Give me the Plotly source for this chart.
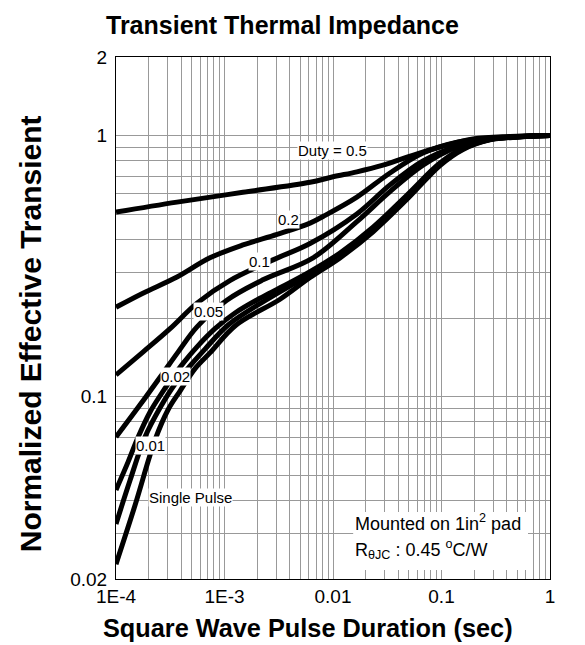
import numpy as np
import plotly.graph_objects as go

# ---- data ----
t_d05 = [1e-4, 3.65e-4, 1.48e-3, 6.14e-3, 0.01, 0.0166, 0.0289, 0.0481, 0.0968, 0.195, 0.428, 1]
z_d05 = [0.509, 0.556, 0.606, 0.662, 0.695, 0.726, 0.770, 0.826, 0.904, 0.970, 0.992, 1.0]

t_d02 = [1e-4, 1.77e-4, 3.65e-4, 7.34e-4, 1.48e-3, 3.05e-3, 6.14e-3, 8.1e-3, 0.0166, 0.0335, 0.0675, 0.139, 0.28, 1]
z_d02 = [0.220, 0.249, 0.287, 0.340, 0.381, 0.418, 0.462, 0.490, 0.581, 0.719, 0.857, 0.944, 0.978, 1.0]

t_d01 = [1e-4, 1.77e-4, 3.15e-4, 5.58e-4, 1.12e-3, 2.80e-3, 6.14e-3, 0.0166, 0.0335, 0.0675, 0.139, 0.28, 1]
z_d01 = [0.121, 0.148, 0.182, 0.228, 0.278, 0.334, 0.386, 0.501, 0.647, 0.799, 0.912, 0.972, 1.0]

t_d005 = [1e-4, 1.66e-4, 2.71e-4, 3.73e-4, 5.58e-4, 1.05e-3, 2.26e-3, 6.55e-3, 0.0166, 0.0335, 0.0675, 0.139, 0.28, 1]
z_d005 = [0.0700, 0.0928, 0.123, 0.148, 0.185, 0.234, 0.280, 0.340, 0.468, 0.61, 0.77, 0.905, 0.970, 1.0]

t_d002 = [1e-4, 1.29e-4, 1.60e-4, 2.06e-4, 2.54e-4, 3.15e-4, 4.15e-4, 5.58e-4, 8.17e-4, 1.25e-3, 2.12e-3,
          3.25e-3, 6.14e-3, 0.0116, 0.0234, 0.0481, 0.0968, 0.158, 0.28, 0.53, 1]
z_d002 = [0.0439, 0.0561, 0.0700, 0.0873, 0.1005, 0.1147, 0.134, 0.155, 0.182, 0.209, 0.238,
          0.261, 0.301, 0.355, 0.446, 0.592, 0.785, 0.896, 0.968, 0.990, 1.0]

t_d001 = [1e-4, 1.35e-4, 1.85e-4, 2.54e-4, 3.50e-4, 4.81e-4, 6.61e-4, 1.08e-3, 2.36e-3, 6.14e-3,
          0.0116, 0.0234, 0.0481, 0.0968, 0.158, 0.28, 0.53, 1]
z_d001 = [0.0325, 0.0479, 0.0700, 0.0904, 0.1117, 0.131, 0.152, 0.188, 0.233, 0.294,
          0.347, 0.436, 0.580, 0.775, 0.890, 0.966, 0.989, 1.0]

t_sp = [1e-4, 1.50e-4, 2.29e-4, 3.01e-4, 3.89e-4, 5.35e-4, 7.34e-4, 1.28e-3, 3.25e-3, 6.14e-3,
        0.0116, 0.0234, 0.0481, 0.0968, 0.158, 0.28, 0.53, 1]
z_sp = [0.0228, 0.0384, 0.0682, 0.0888, 0.1050, 0.128, 0.147, 0.188, 0.236, 0.286,
        0.340, 0.428, 0.570, 0.768, 0.885, 0.963, 0.988, 1.0]

curves = [(t_d05, z_d05), (t_d02, z_d02), (t_d01, z_d01), (t_d005, z_d005),
          (t_d002, z_d002), (t_d001, z_d001), (t_sp, z_sp)]

# curve labels: text, x, y (data units)
label_text = ["Duty = 0.5", "0.2", "0.1", "0.05", "0.02", "0.01", "Single Pulse"]
label_x = [0.0098, 3.85e-3, 2.08e-3, 7.05e-4, 3.5e-4, 2.06e-4, 4.91e-4]
label_y = [0.873, 0.479, 0.328, 0.211, 0.119, 0.0652, 0.0409]

note_line1 = "Mounted on 1in<sup>2</sup> pad"
note_line2 = "R<sub>θJC</sub> : 0.45 <sup>o</sup>C/W"

# axis ticks / grid
x_major = [1e-4, 1e-3, 0.01, 0.1, 1]
x_major_text = ["1E-4", "1E-3", "0.01", "0.1", "1"]
y_major = [0.02, 0.1, 1, 2]
y_major_text = ["0.02", "0.1", "1", "2"]

FONT = "Liberation Sans, Arial, sans-serif"

xt, xl = [], []
for d in [1e-4, 1e-3, 1e-2, 1e-1]:
    for m in range(1, 10):
        v = round(m * d, 6)
        xt.append(v)
        xl.append(x_major_text[x_major.index(v)] if v in x_major else "")
xt.append(1)
xl.append("1")

yt, yl = [], []
for d, ms in [(0.01, range(2, 10)), (0.1, range(1, 10))]:
    for m in ms:
        v = round(m * d, 6)
        yt.append(v)
        yl.append(y_major_text[y_major.index(v)] if v in y_major else "")
yt += [1, 2]
yl += ["1", "2"]

fig = go.Figure()
for t, z in curves:
    fig.add_trace(go.Scatter(x=t, y=z, mode="lines",
                             line=dict(color="black", width=5, shape="spline", smoothing=1.0),
                             showlegend=False, hoverinfo="skip"))

for txt, lx, ly in zip(label_text, label_x, label_y):
    fig.add_annotation(x=np.log10(lx), y=np.log10(ly), xref="x", yref="y", text=txt, showarrow=False,
                       font=dict(family=FONT, size=15, color="black"),
                       bgcolor="white", borderpad=0)

# white box behind the note
fig.add_shape(type="rect", xref="paper", yref="paper", x0=0.5465, x1=0.9493, y0=0.0172, y1=0.1284,
              fillcolor="white", line=dict(width=0), layer="above")
fig.add_annotation(x=0.5460, y=0.1073, xref="paper", yref="paper", xanchor="left", yanchor="middle",
                   text=note_line1, showarrow=False, font=dict(family=FONT, size=18, color="black"))
fig.add_annotation(x=0.5460, y=0.0556, xref="paper", yref="paper", xanchor="left", yanchor="middle",
                   text=note_line2, showarrow=False, font=dict(family=FONT, size=18, color="black"))

fig.add_annotation(x=0.3825, y=1.061, xref="paper", yref="paper", text="<b>Transient Thermal Impedance</b>",
                   showarrow=False, font=dict(family=FONT, size=25, color="black"), yanchor="middle")
fig.add_annotation(x=0.442, y=-0.094, xref="paper", yref="paper", text="<b>Square Wave Pulse Duration (sec)</b>",
                   showarrow=False, font=dict(family=FONT, size=25.3, color="black"), yanchor="middle")
fig.add_annotation(x=-0.198, y=0.469, xref="paper", yref="paper", text="<b>Normalized Effective Transient</b>",
                   showarrow=False, textangle=-90, font=dict(family=FONT, size=30, color="black"),
                   xanchor="center", yanchor="middle")

axis_common = dict(type="log", showgrid=True, gridcolor="#999999", gridwidth=1,
                   showline=True, linecolor="black", linewidth=1, mirror=True,
                   ticks="", zeroline=False, tickfont=dict(family=FONT, size=19, color="black"),
                   tickmode="array")

fig.update_layout(
    width=585, height=645,
    margin=dict(l=116, r=35, t=57, b=66),
    paper_bgcolor="white", plot_bgcolor="white",
    xaxis=dict(range=[-4, 0], tickvals=xt, ticktext=xl, ticklabelstandoff=0, **axis_common),
    yaxis=dict(range=[0.30103 - 2, 0.30103], tickvals=yt, ticktext=yl, ticklabelstandoff=4, **axis_common),
)

fig.write_html("out.html")
